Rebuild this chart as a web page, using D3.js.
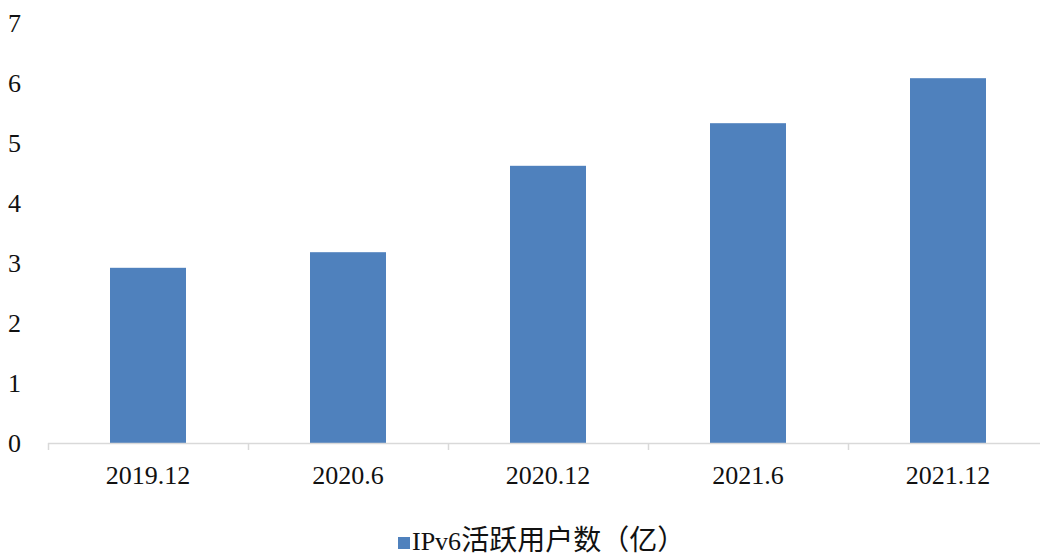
<!DOCTYPE html>
<html>
<head>
<meta charset="utf-8">
<script src="https://cdn.jsdelivr.net/npm/d3@7"></script>
<style>
  body { margin: 0; background: #fff; }
  text { font-family: "Liberation Serif", "Times New Roman", "Noto Sans CJK SC", serif; }
</style>
</head>
<body>
<div id="chart"></div>
<script>
// data
var categories = ["2019.12", "2020.6", "2020.12", "2021.6", "2021.12"];
var users = [2.92, 3.18, 4.62, 5.33, 6.08];
var yTicks = [0, 1, 2, 3, 4, 5, 6, 7];
var seriesPrefix = "IPv6";
var seriesName = "活跃用户数（亿）";

var width = 1040;
var height = 557;
var barColor = "#4f81bd";

var svg = d3.select("#chart")
    .append("svg")
    .attr("width", width)
    .attr("height", height);

var x = d3.scaleBand()
    .domain(categories)
    .range([48, 1048])
    .paddingInner(0.62)
    .paddingOuter(0.31);

var y = d3.scaleLinear()
    .domain([0, 7])
    .range([443, 23]);

// y labels only, no axis line
svg.append("g")
    .selectAll("text")
    .data(yTicks)
    .enter()
    .append("text")
    .attr("x", 21)
    .attr("y", d => y(d) + 9)
    .attr("text-anchor", "end")
    .attr("font-size", 26)
    .attr("fill", "#111")
    .text(d => d);

// bars
svg.append("g")
    .selectAll("rect")
    .data(users)
    .enter()
    .append("rect")
    .attr("x", (d, i) => x(categories[i]))
    .attr("y", d => y(d))
    .attr("width", x.bandwidth())
    .attr("height", d => y(0) - y(d))
    .attr("fill", barColor);

// x axis: line + tick marks between categories
var step = x.step();
var xAxis = svg.append("g");
xAxis.append("line")
    .attr("x1", 48).attr("x2", width)
    .attr("y1", y(0) + 0.5).attr("y2", y(0) + 0.5)
    .attr("stroke", "#d9d9d9")
    .attr("stroke-width", 1.5);
xAxis.selectAll(".tk")
    .data(d3.range(categories.length + 1))
    .enter()
    .append("line")
    .attr("class", "tk")
    .attr("x1", i => 48 + i * step + 0.5)
    .attr("x2", i => 48 + i * step + 0.5)
    .attr("y1", y(0))
    .attr("y2", y(0) + 7)
    .attr("stroke", "#d9d9d9")
    .attr("stroke-width", 1.5);
xAxis.selectAll("text")
    .data(categories)
    .enter()
    .append("text")
    .attr("x", d => x(d) + x.bandwidth() / 2)
    .attr("y", 484)
    .attr("text-anchor", "middle")
    .attr("font-size", 26)
    .attr("fill", "#111")
    .text(d => d);

// legend
var legend = svg.append("g");
legend.append("rect")
    .attr("x", 398).attr("y", 537)
    .attr("width", 12).attr("height", 12)
    .attr("fill", barColor);
var lt = legend.append("text")
    .attr("x", 412).attr("y", 550)
    .attr("fill", "#111");
lt.append("tspan")
    .attr("font-size", 26)
    .text(seriesPrefix);
lt.append("tspan")
    .attr("font-size", 28)
    .text(seriesName);
</script>
</body>
</html>
